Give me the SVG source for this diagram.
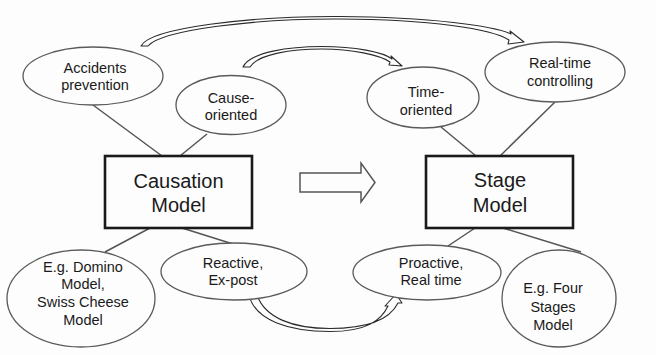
<svg xmlns="http://www.w3.org/2000/svg" width="656" height="355" viewBox="0 0 656 355">
<style>
.bg{fill:#fdfdfd}
.ell{fill:#fdfdfd;stroke:#5a5a5a;stroke-width:1.3}
.box{fill:#fdfdfd;stroke:#1a1a1a;stroke-width:2.6}
.ln{stroke:#555;stroke-width:1.5;fill:none}
.carc{fill:#fdfdfd;stroke:#2a2a2a;stroke-width:1.1;stroke-linejoin:round}
.t{font-family:"Liberation Sans",Arial,sans-serif;font-size:14.5px;fill:#1a1a1a;text-anchor:middle}
.tb{font-family:"Liberation Sans",Arial,sans-serif;font-size:20px;fill:#1a1a1a;text-anchor:middle}
</style>
<rect class="bg" x="0" y="0" width="656" height="355"/>
<g id="connectors">
<line class="ln" x1="93" y1="105" x2="162" y2="156"/>
<line class="ln" x1="207" y1="134" x2="180" y2="156"/>
<line class="ln" x1="150" y1="228" x2="105" y2="252"/>
<line class="ln" x1="182" y1="228" x2="233" y2="244"/>
<line class="ln" x1="441" y1="127" x2="476" y2="156"/>
<line class="ln" x1="555" y1="102" x2="500" y2="156"/>
<line class="ln" x1="475" y1="228" x2="448" y2="246"/>
<line class="ln" x1="503" y1="228" x2="581" y2="252"/>
<path id="arc-top" class="carc" d="M141,46 C150,28 250,16 340,16.5 C430,17 495,26 511,34 L510,31 L524,42 L508,44 L509,40 C492,29 430,19.5 340,19 C255,18.5 162,30 148,46 Z"/>
<path id="arc-mid" class="carc" d="M243,67 C250,52 290,46.5 322,46.5 C355,46.5 383,52 392,59 L391,56 L402,66 L389,65 L390,62 C380,55 352,49 322,49 C292,49 258,54 250,67 Z"/>
<path id="arc-bottom" class="carc" d="M249,295 C255,321 290,331.5 330,331.5 C366,331.5 381,321 388,306 L385,306 L396,294 L402,303 L398,303 C390,319 370,328.5 330,328.5 C293,328.5 265,318 257,295 Z"/>
<path id="block-arrow" d="M300,173 L361,173 L361,163 L375,182.5 L361,202 L361,192 L300,192 Z" fill="#fdfdfd" stroke="#555" stroke-width="1.5" stroke-linejoin="miter"/>
</g>
<g id="accidents-prevention">
<ellipse class="ell" cx="93" cy="76" rx="70" ry="29"/>
<text class="t" x="95" y="73">Accidents</text>
<text class="t" x="95" y="90">prevention</text>
</g>
<g id="cause-oriented">
<ellipse class="ell" cx="231" cy="105" rx="55" ry="29.5"/>
<text class="t" x="231" y="103">Cause-</text>
<text class="t" x="231" y="120">oriented</text>
</g>
<g id="causation-model">
<rect class="box" x="105" y="156" width="147" height="72"/>
<text class="tb" x="178.5" y="188">Causation</text>
<text class="tb" x="178.5" y="212">Model</text>
</g>
<g id="domino">
<ellipse class="ell" cx="81" cy="298.5" rx="74" ry="48.5"/>
<text class="t" x="83" y="272">E.g. Domino</text>
<text class="t" x="83" y="289">Model,</text>
<text class="t" x="83" y="307">Swiss Cheese</text>
<text class="t" x="83" y="325">Model</text>
</g>
<g id="reactive">
<ellipse class="ell" cx="234" cy="271.5" rx="73" ry="28.5"/>
<text class="t" x="233" y="268">Reactive,</text>
<text class="t" x="233" y="285">Ex-post</text>
</g>
<g id="time-oriented">
<ellipse class="ell" cx="423" cy="97.5" rx="56" ry="30.5"/>
<text class="t" x="426" y="97">Time-</text>
<text class="t" x="426" y="115">oriented</text>
</g>
<g id="real-time-controlling">
<ellipse class="ell" cx="555" cy="72" rx="70" ry="30"/>
<text class="t" x="560" y="68">Real-time</text>
<text class="t" x="560" y="86">controlling</text>
</g>
<g id="stage-model">
<rect class="box" x="426" y="156" width="147" height="72"/>
<text class="tb" x="500" y="187">Stage</text>
<text class="tb" x="500" y="212">Model</text>
</g>
<g id="proactive">
<ellipse class="ell" cx="427" cy="272.5" rx="74" ry="27.5"/>
<text class="t" x="431" y="268">Proactive,</text>
<text class="t" x="431" y="285">Real time</text>
</g>
<g id="four-stages">
<ellipse class="ell" cx="559" cy="298.5" rx="57" ry="48.5"/>
<text class="t" x="553" y="293">E.g. Four</text>
<text class="t" x="553" y="312">Stages</text>
<text class="t" x="553" y="330">Model</text>
</g>
</svg>
